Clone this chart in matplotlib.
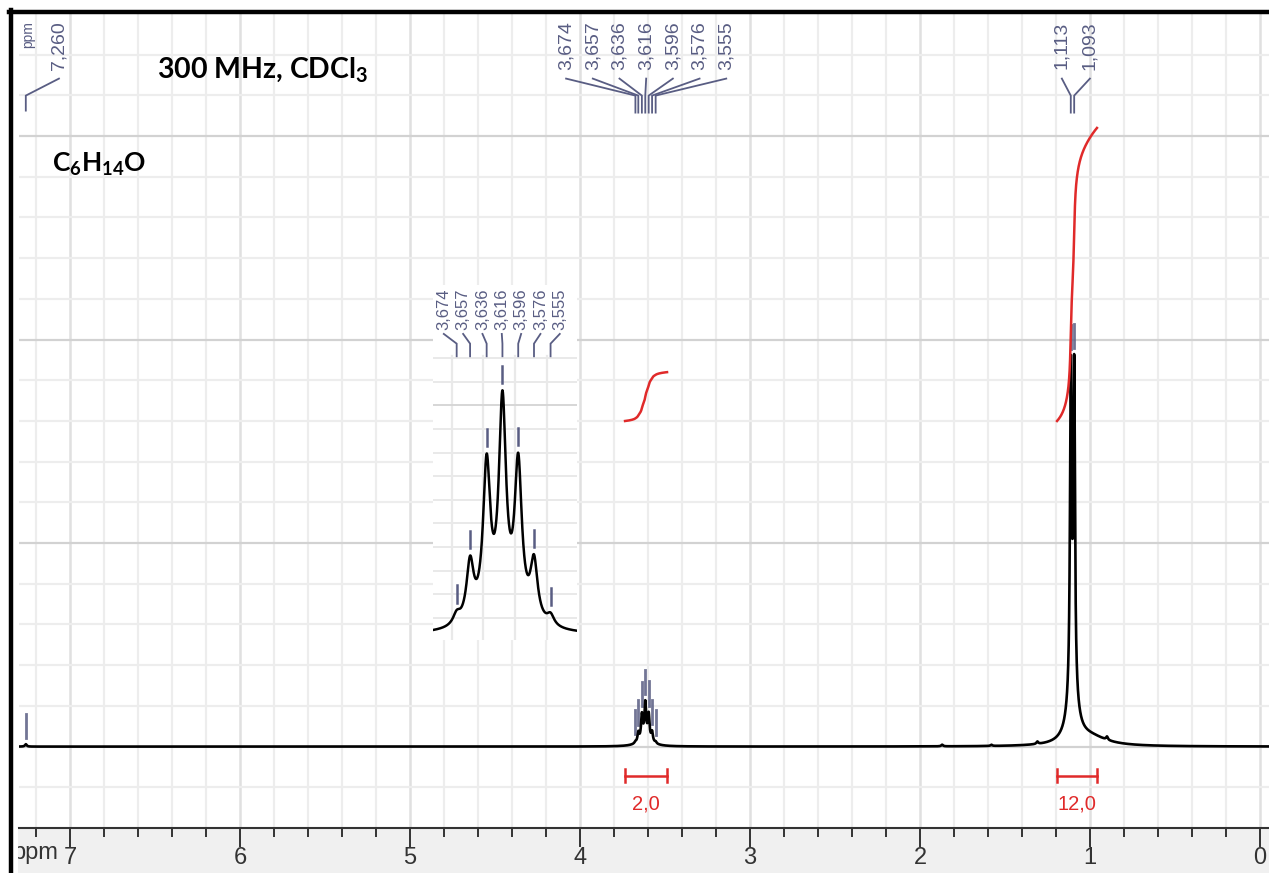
import numpy as np
import matplotlib
matplotlib.use("Agg")
import matplotlib.pyplot as plt
from matplotlib.lines import Line2D
from matplotlib.patches import Rectangle

plt.rcParams['font.family'] = ['Liberation Sans', 'DejaVu Sans']
plt.rcParams['mathtext.fontset'] = 'custom'
plt.rcParams['mathtext.rm'] = 'Lato:bold'
plt.rcParams['mathtext.it'] = 'Lato:bold'
plt.rcParams['mathtext.bf'] = 'Lato:bold'

W, H = 1269, 873
DPI = 100

# ---- spectrum lines (ppm, height in grid units) ----
septet_ppm = [3.674, 3.657, 3.636, 3.616, 3.596, 3.576, 3.555]
septet_height = [0.05, 0.28, 0.72, 1.00, 0.72, 0.28, 0.05]
septet_scale = 0.8
doublet_ppm = [1.113, 1.093]
doublet_height = [7.7, 7.7]
small_ppm = [7.260, 1.870, 1.580, 1.310, 0.900]
small_height = [0.06, 0.04, 0.03, 0.06, 0.08]
broad_ppm = [3.615, 1.103, 1.000]
broad_height = [0.25, 1.40, 0.22]
broad_hwhm = [0.035, 0.030, 0.120]
inset_broad_height = 0.06
line_hwhm = 0.0055

integral_ranges = [(3.735, 3.488), (1.194, 0.959)]
integral_values = [2.0, 12.0]
integral_labels = ["2,0", "12,0"]
integral_base = 8.0
units_per_h = 0.6

septet_labels = ["3,674", "3,657", "3,636", "3,616", "3,596", "3,576", "3,555"]
doublet_labels = ["1,113", "1,093"]
solvent_label = "7,260"

LBL = "#595d83"
RED = "#e02a2a"


def lorentz(x, x0, h, w):
    return h / (1.0 + ((x - x0) / w) ** 2)


def fx(px):
    return px / W


def fy(px):
    return 1.0 - px / H


def py(px):
    # pixel row -> main y units (baseline at row 746, 40.7 px per unit)
    return (746.0 - px) / 40.7


ppm = np.linspace(7.31, -0.06, 80000)
spec = np.zeros_like(ppm)
for p, h in zip(septet_ppm, septet_height):
    spec += lorentz(ppm, p, h * septet_scale, line_hwhm)
for p, h in zip(doublet_ppm, doublet_height):
    spec += lorentz(ppm, p, h, line_hwhm)
for p, h in zip(small_ppm, small_height):
    spec += lorentz(ppm, p, h, 0.006)
for p, h, w in zip(broad_ppm, broad_height, broad_hwhm):
    spec += lorentz(ppm, p, h, w)

fig = plt.figure(figsize=(W / DPI, H / DPI), dpi=DPI)
fig.patch.set_facecolor("white")

ax = fig.add_axes([fx(19), 1 - 828 / H, 1 - fx(19), (828 - 14) / H])
ax.set_xlim(7.30, -0.053)
ax.set_ylim(-2.0, 18.0)

# grid
ax.set_xticks(np.arange(0, 8, 1))
ax.set_xticks(np.arange(0, 7.35, 0.2), minor=True)
ax.set_yticks([0, 5, 10, 15])
ax.set_yticks(np.arange(-1, 18, 1), minor=True)
ax.grid(which="minor", color="#ededed", lw=1.6)
ax.grid(which="major", axis="y", color="#d2d2d2", lw=1.6)
ax.grid(which="major", axis="x", color="#e0e0e0", lw=1.8)
ax.set_axisbelow(True)
ax.tick_params(axis="y", which="both", left=False, labelleft=False)
ax.tick_params(axis="x", which="major", direction="out", length=13.5, width=1.4,
               color="#333333", labelsize=17, labelcolor="#333333", pad=0)
ax.tick_params(axis="x", which="minor", direction="out", length=6.5, width=1.4,
               color="#333333")
ax.set_xticklabels([str(int(v)) for v in np.arange(0, 8, 1)])
for s in ["top", "left", "right"]:
    ax.spines[s].set_visible(False)
ax.spines["bottom"].set_color("#333333")
ax.spines["bottom"].set_linewidth(1.5)

ax.plot(ppm, spec, color="black", lw=1.9, zorder=3)

# integrals
for (hi, lo), val, lab in zip(integral_ranges, integral_values, integral_labels):
    m = (ppm <= hi) & (ppm >= lo)
    cum = np.cumsum(spec[m])
    cum = cum / cum[-1] * val * units_per_h + integral_base
    ax.plot(ppm[m], cum, color=RED, lw=1.8, zorder=4)
    yb = py(775)
    ax.plot([hi, lo], [yb, yb], color=RED, lw=1.8)
    ax.plot([hi, hi], [yb - 0.15, yb + 0.15], color=RED, lw=1.8)
    ax.plot([lo, lo], [yb - 0.15, yb + 0.15], color=RED, lw=1.8)
    ax.text((hi + lo) / 2, py(803), lab, color=RED, fontsize=14.5,
            ha="center", va="center")


# peak picking labels
def pick_labels(a, labels, peaks, spacing, shift, fs, y_top, y_start, y_elbow, y_end):
    centre = np.mean(peaks) + shift
    n = len(labels)
    for i, (lab, p) in enumerate(zip(labels, peaks)):
        lx = centre + spacing * ((n - 1) / 2 - i)
        a.text(lx, y_top, lab, rotation=90, ha="center", va="top",
               fontsize=fs, color=LBL, clip_on=False)
        a.plot([lx, p, p], [y_start, y_elbow, y_end], color=LBL, lw=1.3,
               clip_on=False, solid_joinstyle="miter")


pick_labels(ax, septet_labels, septet_ppm, 0.157, -0.005, 14,
            py(21), py(78), py(95), py(112))
pick_labels(ax, doublet_labels, doublet_ppm, 0.165, -0.02, 14,
            py(21), py(78), py(95), py(112))
pick_labels(ax, [solvent_label], [small_ppm[0]], 0.0, -0.195, 14,
            py(21), py(78), py(95), py(110))
ax.text((1260 - 28) / 170, py(21), "ppm", rotation=90, ha="center", va="top",
        fontsize=10, color=LBL)

# peak markers on the spectrum
for p in septet_ppm + doublet_ppm + [small_ppm[0]]:
    h = np.interp(p, ppm[::-1], spec[::-1])
    ax.plot([p, p], [h + 0.15, h + 0.75], color=LBL, lw=2.0, alpha=0.85, zorder=2)

# header texts
fig.text(fx(157), fy(77), r"300 MHz, CDCl$_3$", fontsize=20.5, fontweight="bold",
         family="Lato", va="baseline", ha="left")
fig.text(fx(52), fy(172), r"C$_6$H$_{14}$O", fontsize=19, fontweight="bold",
         family="Lato", va="baseline", ha="left")

# bottom band + frame
fig.add_artist(Rectangle((fx(18), 0), 1 - fx(18), 1 - 828 / H,
                         transform=fig.transFigure, facecolor="#f0f0f0",
                         edgecolor="none", zorder=-1))
fig.text(fx(58), fy(853), "ppm", fontsize=17, color="#333333", ha="right",
         va="center")
fig.add_artist(Rectangle((0, 0), fx(18), 1 - 828 / H, transform=fig.transFigure,
                         facecolor="white", edgecolor="none", zorder=9))
fig.add_artist(Line2D([fx(11), fx(11)], [0, fy(10)], color="black", lw=3.2, zorder=10))
fig.add_artist(Line2D([fx(9), 1], [fy(12), fy(12)], color="black", lw=3.2, zorder=10))

# ---- inset: expanded multiplet ----
ins = fig.add_axes([fx(433), 1 - 640 / H, (577 - 433) / W, (640 - 285) / H])
ins.set_zorder(2)
ins.patch.set_facecolor("white")
for s in ins.spines.values():
    s.set_visible(False)
ins.set_xticks([])
ins.set_yticks([])
x_in = np.linspace(3.704, 3.5215, 3000)
s_in = np.zeros_like(x_in)
for p, h in zip(septet_ppm, septet_height):
    s_in += lorentz(x_in, p, h, line_hwhm)
s_in += lorentz(x_in, broad_ppm[0], inset_broad_height, broad_hwhm[0])
s_in = s_in / s_in.max()
ins.set_xlim(3.704, 3.5215)
ins.set_ylim(-0.02, 1.43)


def iy(px):
    return (645.0 - px) / 252.0


grid_top = iy(358)
for gx in [3.68, 3.64, 3.60, 3.56]:
    ins.plot([gx, gx], [ins.get_ylim()[0], grid_top], color="#e9e9e9", lw=1.6, zorder=0)
for k, gy in enumerate(np.arange(360, 640, 24.3)):
    c = "#d6d6d6" if k == 2 else "#e9e9e9"
    ins.plot([3.704, 3.5215], [iy(gy), iy(gy)], color=c, lw=1.4, zorder=0)
ins.plot(x_in, s_in, color="black", lw=1.8, zorder=3)
for p in septet_ppm:
    h = np.interp(p, x_in[::-1], s_in[::-1])
    ins.plot([p, p], [h + 0.03, h + 0.10], color=LBL, lw=1.8, zorder=2)
pick_labels(ins, septet_labels, septet_ppm, 0.0245, 0.0011, 12,
            iy(288), iy(335), iy(345), iy(358))

fig.savefig("out.png", dpi=DPI)
